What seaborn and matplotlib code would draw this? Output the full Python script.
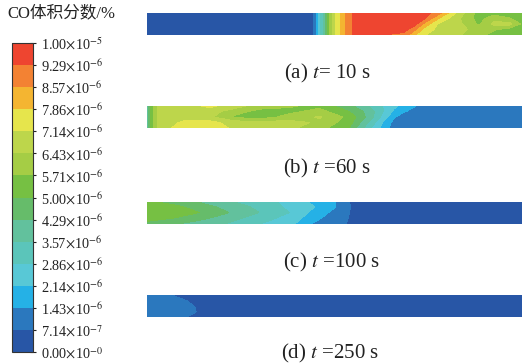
import numpy as np
import matplotlib
matplotlib.use("Agg")
import matplotlib.pyplot as plt
from matplotlib.colors import ListedColormap, BoundaryNorm
import seaborn as sns

# colour bands of the legend, bottom (0) to top (1e-5)
band_colors = ["#2856A6", "#2B78BE", "#25B1E6", "#58C8D6", "#5BC5BA", "#62C19D",
               "#66BC6A", "#76C043", "#A5CD45", "#BDD64B", "#E6E54C", "#F4B531",
               "#F38233", "#EE4530"]
tick_labels = [r"0.00$\times$10$^{-0}$", r"7.14$\times$10$^{-7}$", r"1.43$\times$10$^{-6}$",
               r"2.14$\times$10$^{-6}$", r"2.86$\times$10$^{-6}$", r"3.57$\times$10$^{-6}$",
               r"4.29$\times$10$^{-6}$", r"5.00$\times$10$^{-6}$", r"5.71$\times$10$^{-6}$",
               r"6.43$\times$10$^{-6}$", r"7.14$\times$10$^{-6}$", r"7.86$\times$10$^{-6}$",
               r"8.57$\times$10$^{-6}$", r"9.29$\times$10$^{-6}$", r"1.00$\times$10$^{-5}$"]
cbar_title = "CO体积分数/%"
captions = [r"(a) $t$= 10 s", r"(b) $t$ =60 s", r"(c) $t$ =100 s", r"(d) $t$ =250 s"]

# CO fraction (units of 1e-6) sampled along the pipe (x in 0..1), rows bottom -> top
xa = [0.0, 0.419, 0.44, 0.472, 0.499, 0.539, 0.56, 0.685, 0.712, 0.739, 0.779, 0.832, 0.885, 0.925, 0.965, 1.0]
za = [[0, 0, 0.3, 4, 7, 9.0, 9.7, 9.0, 8.0, 7.2, 6.8, 6.5, 6.0, 5.4, 5.2, 5.2],
      [0, 0, 0.3, 4, 7, 9.0, 9.7, 9.6, 8.8, 7.6, 6.9, 6.6, 6.2, 5.8, 5.4, 5.3],
      [0, 0, 0.3, 4, 7, 9.0, 9.7, 9.8, 9.6, 8.4, 7.0, 6.6, 5.6, 6.6, 6.7, 5.6],
      [0, 0, 0.3, 4, 7, 9.0, 9.7, 9.8, 9.7, 9.4, 7.8, 6.5, 5.4, 6.2, 5.8, 5.3],
      [0, 0, 0.3, 4, 7, 9.0, 9.7, 9.8, 9.8, 9.7, 8.8, 6.8, 5.4, 5.4, 5.2, 5.2]]

xb = [0.0, 0.011, 0.032, 0.099, 0.166, 0.233, 0.299, 0.379, 0.459, 0.539, 0.592, 0.632, 0.659, 0.686, 0.726, 0.779, 1.0]
zb = [[3.5, 5.3, 6.8, 7.5, 7.6, 7.0, 6.8, 6.6, 6.0, 5.0, 3.0, 1.8, 1.0, 1.0, 1.0, 1.0, 1.0],
      [3.5, 5.3, 6.6, 7.3, 7.4, 6.8, 6.6, 6.7, 6.3, 5.3, 3.5, 2.0, 1.2, 1.0, 1.0, 1.0, 1.0],
      [3.5, 5.3, 6.6, 6.8, 6.6, 5.6, 5.3, 6.0, 6.5, 5.5, 4.0, 2.5, 1.5, 1.0, 1.0, 1.0, 1.0],
      [3.5, 5.3, 6.6, 6.8, 6.8, 6.0, 5.5, 5.5, 6.0, 5.0, 4.0, 2.8, 2.0, 1.5, 1.0, 1.0, 1.0],
      [3.5, 5.3, 6.6, 6.8, 7.3, 6.8, 6.0, 5.8, 5.5, 4.5, 3.5, 2.8, 2.3, 1.9, 1.3, 1.0, 1.0]]

xc = [0.0, 0.072, 0.139, 0.206, 0.273, 0.340, 0.398, 0.433, 0.486, 0.526, 0.56, 1.0]
zc = [[4.8, 4.4, 4.0, 3.6, 3.1, 2.6, 2.1, 1.5, 1.0, 0.8, 0.3, 0.3],
      [5.3, 5.0, 4.5, 4.0, 3.4, 2.9, 2.4, 1.8, 1.2, 0.9, 0.3, 0.3],
      [5.6, 5.4, 5.0, 4.4, 3.8, 3.2, 2.7, 2.1, 1.4, 1.0, 0.3, 0.3],
      [5.5, 5.2, 4.7, 4.1, 3.6, 3.0, 2.6, 2.3, 1.7, 1.1, 0.3, 0.3],
      [5.1, 4.7, 4.2, 3.7, 3.3, 2.9, 2.5, 2.1, 1.7, 1.0, 0.3, 0.3]]

xd = [0.0, 0.048, 0.088, 0.128, 0.168, 1.0]
zd = [[0.9, 0.9, 0.8, 0.6, 0.3, 0.3],
      [1.0, 1.0, 0.9, 0.75, 0.3, 0.3],
      [1.0, 1.0, 0.9, 0.7, 0.3, 0.3],
      [1.0, 0.9, 0.8, 0.6, 0.3, 0.3],
      [0.9, 0.8, 0.6, 0.4, 0.3, 0.3]]

y_rows = [0.0, 0.25, 0.5, 0.75, 1.0]

sns.set_theme(style="white")
plt.rcParams["font.family"] = ["Liberation Serif", "Noto Sans CJK SC"]
plt.rcParams["mathtext.fontset"] = "stix"

cmap = ListedColormap(sns.color_palette(band_colors))
levels = np.linspace(0, 10, 15)
norm = BoundaryNorm(levels, cmap.N)

W, H = 522, 364
fig = plt.figure(figsize=(W / 100, H / 100), dpi=100)


def px_axes(x0, top, w, h):
    return fig.add_axes([x0 / W, (H - top - h) / H, w / W, h / H])


panels = [(xa, za, 13, 73), (xb, zb, 106, 168), (xc, zc, 201.5, 262), (xd, zd, 295, 353)]
label_x = [327, 327, 332, 330]
cs = None
for i, (xs, zs, top, cap_y) in enumerate(panels):
    ax = px_axes(147, top, 375, 22)
    cs = ax.contourf(xs, y_rows, np.array(zs), levels=levels, cmap=cmap, norm=norm)
    ax.set_xlim(0, 1)
    ax.set_ylim(0, 1)
    ax.axis("off")
    fig.text(label_x[i] / W, 1 - cap_y / H, captions[i], ha="center", va="center",
             fontsize=15, color="#222222")

# legend bar
cax = px_axes(12, 43, 21, 309)
cb = fig.colorbar(cs, cax=cax, ticks=levels)
cb.ax.set_yticklabels(tick_labels)
cb.ax.tick_params(direction="inout", length=5, width=0.8, labelsize=10.3, pad=3,
                  colors="#222222", right=True)
cb.outline.set_linewidth(0.8)
cb.outline.set_edgecolor("#333333")
fig.text(7 / W, 1 - 13 / H, cbar_title, ha="left", va="center", fontsize=12,
         color="#222222")

fig.savefig("out.png", dpi=100)
